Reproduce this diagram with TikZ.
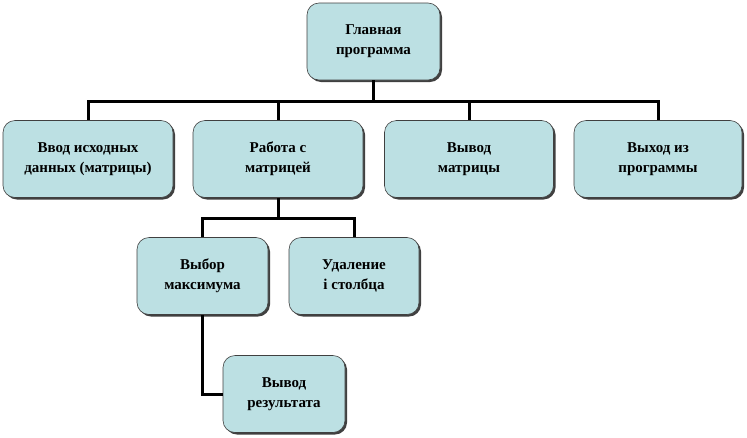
\documentclass[tikz,border=0pt]{standalone}
\usepackage{fontspec}
\setmainfont{Liberation Serif}
\usetikzlibrary{shadows}
\definecolor{boxfill}{HTML}{BCE0E3}
\definecolor{boxedge}{HTML}{404040}
\begin{document}
\begin{tikzpicture}[x=1pt,y=-1pt,
  blk/.style={draw=boxedge, line width=0.6pt, fill=boxfill, rounded corners=12pt,
    minimum height=77pt, align=center, font=\fontsize{15}{20}\selectfont\bfseries,
    drop shadow={shadow xshift=2pt, shadow yshift=-2pt, fill=black!75, opacity=1}},
  con/.style={line width=3pt, black}]
\useasboundingbox (0,0) rectangle (747,437);
\node[blk, minimum width=133pt] (main) at (373.5,41.5) {Главная\\программа};
\node[blk, minimum width=170pt] (inp) at (88,159) {Ввод исходных\\данных (матрицы)};
\node[blk, minimum width=170pt] (work) at (278,159) {Работа с\\матрицей};
\node[blk, minimum width=169pt] (outm) at (469,159) {Вывод\\матрицы};
\node[blk, minimum width=168pt] (quit) at (658,159) {Выход из\\программы};
\node[blk, minimum width=131pt] (max) at (202.5,276) {Выбор\\максимума};
\node[blk, minimum width=130pt] (del) at (354,276) {Удаление\\i  столбца};
\node[blk, minimum width=122pt] (res) at (284,394) {Вывод\\результата};
\coordinate (bus1) at (373.5,101);
\coordinate (bus2) at (278,218);
\draw[con] (main.south) -- (bus1);
\draw[con] (bus1) -| (inp.north);
\draw[con] (bus1) -| (work.north);
\draw[con] (bus1) -| (outm.north);
\draw[con] (bus1) -| (quit.north);
\draw[con] (work.south) -- (bus2);
\draw[con] (bus2) -| (max.north);
\draw[con] (bus2) -| (del.north);
\draw[con] (max.south) |- (res.west);
\end{tikzpicture}
\end{document}
